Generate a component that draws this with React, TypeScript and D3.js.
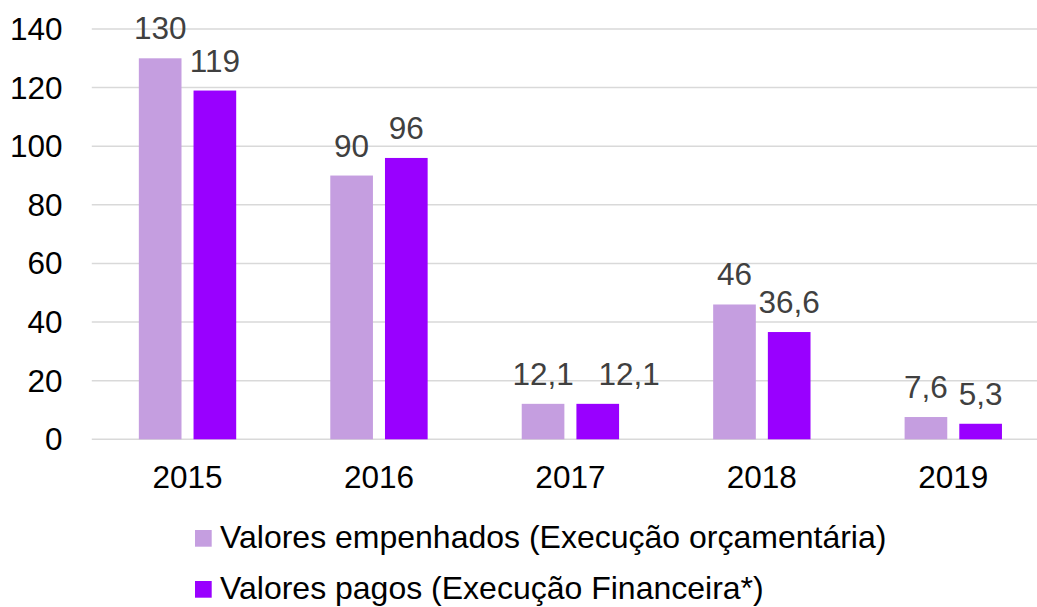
import * as d3 from "d3";

// chart values
const categories = ["2015", "2016", "2017", "2018", "2019"];
const empenhados = [130, 90, 12.1, 46, 7.6];
const pagos = [119, 96, 12.1, 36.6, 5.3];
const seriesNames = [
  "Valores empenhados (Execução orçamentária)",
  "Valores pagos (Execução Financeira*)",
];
const yTicks = [0, 20, 40, 60, 80, 100, 120, 140];

const width = 1037;
const height = 607;
const colors = ["#C59EE0", "#9900FF"];
const font = "'Liberation Sans', Arial, sans-serif";
const fs = 31.5;

const fmt = (v: number) => String(v).replace(".", ",");
// rough text width for Arial-like digits
const textW = (s: string) => s.length * 0.556 * fs;

export default function App() {
  const x = d3.scaleBand().domain(categories).range([91.8, 1049]).padding(0);
  const xInner = d3
    .scaleBand()
    .domain(["0", "1"])
    .range([0, x.bandwidth()])
    .paddingInner(0.22)
    .paddingOuter(0.86);
  const y = d3.scaleLinear().domain([0, 140]).range([439.3, 29]);

  const series = [empenhados, pagos];

  // label positions, nudge the second label right when two labels collide
  const labels = categories.flatMap((c, i) => {
    const cx = series.map(
      (_, si) => (x(c) ?? 0) + (xInner(String(si)) ?? 0) + xInner.bandwidth() / 2
    );
    const t0 = fmt(empenhados[i]);
    const t1 = fmt(pagos[i]);
    const collide =
      Math.abs(y(empenhados[i]) - y(pagos[i])) < fs * 0.8 &&
      cx[0] + textW(t0) / 2 > cx[1] - textW(t1) / 2;
    return [
      { key: `a${i}`, x: cx[0], y: y(empenhados[i]) - 19, t: t0 },
      { key: `b${i}`, x: cx[1] + (collide ? 31.5 : 0), y: y(pagos[i]) - 19, t: t1 },
    ];
  });

  return (
    <svg
      width={width}
      height={height}
      style={{ position: "absolute", left: 0, top: 0, background: "#fff" }}
      fontFamily={font}
    >
      {/* gridlines */}
      {yTicks.map((t) => (
        <line
          key={"g" + t}
          x1={91.8}
          x2={width}
          y1={y(t)}
          y2={y(t)}
          stroke="#D9D9D9"
          strokeWidth={1.5}
        />
      ))}

      {/* y tick labels */}
      {yTicks.map((t) => (
        <text key={"y" + t} x={62.5} y={y(t) + 11} textAnchor="end" fontSize={fs} fill="#000">
          {t}
        </text>
      ))}

      {/* bars */}
      {series.map((vals, si) =>
        vals.map((v, i) => (
          <rect
            key={`b${si}-${i}`}
            x={(x(categories[i]) ?? 0) + (xInner(String(si)) ?? 0)}
            y={y(v)}
            width={xInner.bandwidth()}
            height={y(0) - y(v)}
            fill={colors[si]}
          />
        ))
      )}

      {/* value labels */}
      {labels.map((l) => (
        <text key={l.key} x={l.x} y={l.y} textAnchor="middle" fontSize={fs} fill="#404040">
          {l.t}
        </text>
      ))}

      {/* x labels */}
      {categories.map((c) => (
        <text
          key={"x" + c}
          x={(x(c) ?? 0) + x.bandwidth() / 2}
          y={488}
          textAnchor="middle"
          fontSize={fs}
          fill="#000"
        >
          {c}
        </text>
      ))}

      {/* legend */}
      {seriesNames.map((name, si) => (
        <g key={"l" + si} transform={`translate(195, ${530 + si * 51})`}>
          <rect x={0} y={0} width={16.7} height={16.7} fill={colors[si]} />
          <text x={25} y={18.3} fontSize={32} fill="#000">
            {name}
          </text>
        </g>
      ))}
    </svg>
  );
}
